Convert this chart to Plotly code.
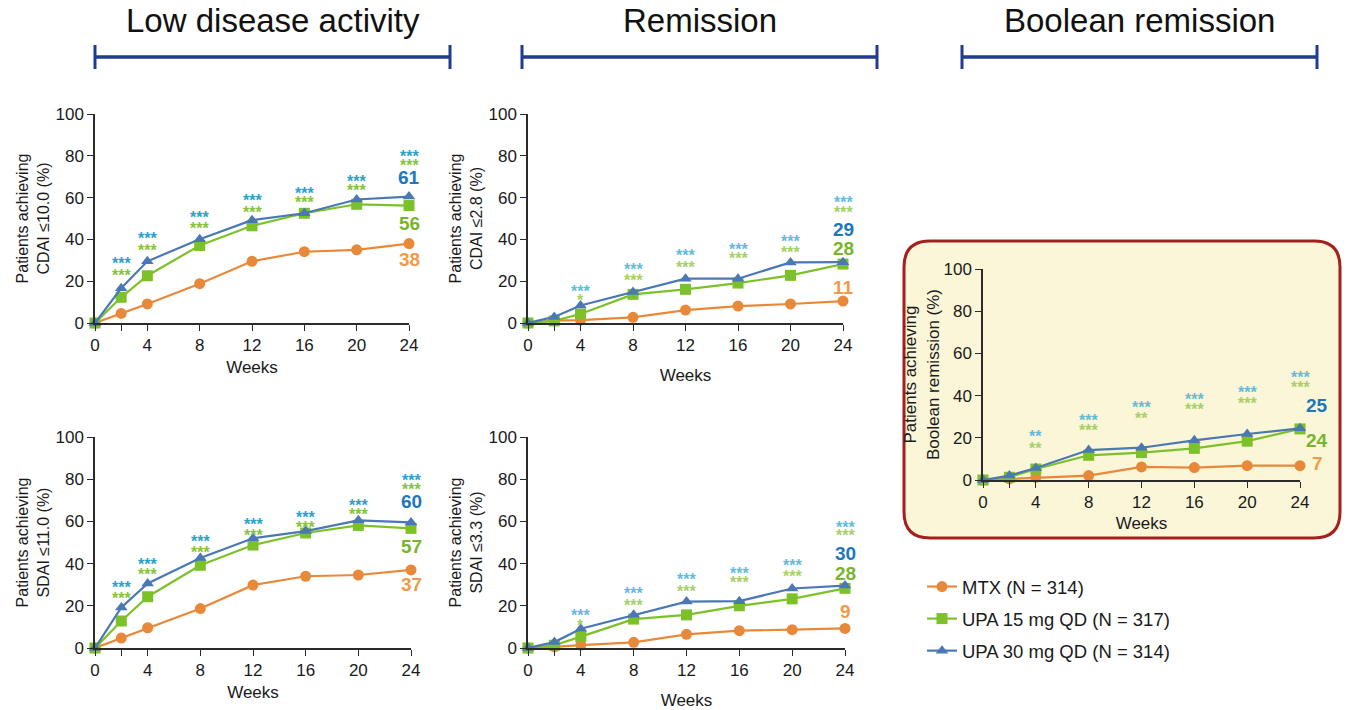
import plotly.graph_objects as go

W, H = 1356, 710

weeks = [0, 2, 4, 8, 12, 16, 20, 24]
week_ticktext = ["0", "", "4", "8", "12", "16", "20", "24"]
y_ticks = [0, 20, 40, 60, 80, 100]

series_names = ["MTX (N = 314)", "UPA 15 mg QD (N = 317)", "UPA 30 mg QD (N = 314)"]

# Low disease activity - CDAI <=10.0
lda_cdai_mtx = [0, 4.6, 9.1, 18.8, 29.5, 34.1, 35.0, 38.0]
lda_cdai_upa15 = [0, 12.3, 22.6, 37.1, 46.5, 52.5, 56.8, 56.2]
lda_cdai_upa30 = [0, 16.6, 29.5, 40.1, 49.2, 52.5, 59.1, 60.5]
# Remission - CDAI <=2.8
rem_cdai_mtx = [0, 1.1, 1.4, 2.7, 6.2, 8.1, 9.1, 10.5]
rem_cdai_upa15 = [0, 1.0, 4.3, 13.7, 16.1, 19.1, 22.8, 28.2]
rem_cdai_upa30 = [0, 2.9, 8.4, 14.8, 21.2, 21.2, 29.0, 29.1]
# Low disease activity - SDAI <=11.0
lda_sdai_mtx = [0, 4.7, 9.6, 18.7, 29.8, 34.0, 34.6, 37.0]
lda_sdai_upa15 = [0, 12.8, 24.3, 39.2, 48.8, 54.5, 58.1, 56.7]
lda_sdai_upa30 = [0, 19.2, 30.6, 42.7, 52.0, 55.4, 60.5, 59.5]
# Remission - SDAI <=3.3
rem_sdai_mtx = [0, 0.5, 1.4, 2.7, 6.5, 8.2, 8.7, 9.3]
rem_sdai_upa15 = [0, 1.3, 5.4, 13.7, 15.7, 20.0, 23.3, 28.3]
rem_sdai_upa30 = [0, 2.8, 9.1, 15.7, 22.0, 22.2, 28.2, 29.6]
# Boolean remission
bool_mtx = [0, 0.5, 1.3, 2.1, 6.2, 5.9, 6.8, 6.8]
bool_upa15 = [0, 1.3, 5.2, 11.7, 13.0, 15.0, 18.4, 24.2]
bool_upa30 = [0, 2.1, 5.7, 14.2, 15.3, 18.8, 21.8, 24.5]

# significance stars (weeks, text for UPA30 row, y, text for UPA15 row, y)
lda_cdai_star_weeks = [2, 4, 8, 12, 16, 20, 24]
lda_cdai_star30 = ["***"] * 7
lda_cdai_star30_y = [30.3, 42.2, 52.5, 60.5, 63.7, 69.7, 81.7]
lda_cdai_star15 = ["***"] * 7
lda_cdai_star15_y = [24.7, 36.6, 47.3, 54.9, 59.7, 65.3, 77.5]

rem_cdai_star_weeks = [4, 8, 12, 16, 20, 24]
rem_cdai_star30 = ["***"] * 6
rem_cdai_star30_y = [17.2, 27.5, 34.2, 37.1, 40.9, 59.4]
rem_cdai_star15 = ["*", "***", "***", "***", "***", "***"]
rem_cdai_star15_y = [12.7, 22.3, 28.7, 32.6, 35.8, 54.9]

lda_sdai_star_weeks = [2, 4, 8, 12, 16, 20, 24]
lda_sdai_star30 = ["***"] * 7
lda_sdai_star30_y = [30.4, 41.7, 52.3, 60.6, 63.8, 69.3, 81.1]
lda_sdai_star15 = ["***"] * 7
lda_sdai_star15_y = [25.5, 36.7, 47.2, 55.1, 59.0, 65.0, 76.9]

rem_sdai_star_weeks = [4, 8, 12, 16, 20, 24]
rem_sdai_star30 = ["***"] * 6
rem_sdai_star30_y = [17.2, 27.6, 34.5, 37.3, 40.8, 59.2]
rem_sdai_star15 = ["*", "***", "***", "***", "***", "***"]
rem_sdai_star15_y = [12.4, 22.0, 28.8, 32.8, 35.7, 55.0]

bool_star_weeks = [4, 8, 12, 16, 20, 24]
bool_star30 = ["**", "***", "***", "***", "***", "***"]
bool_star30_y = [22.6, 30.0, 36.4, 39.9, 43.4, 50.6]
bool_star15 = ["**", "***", "**", "***", "***", "***"]
bool_star15_y = [16.6, 25.3, 30.9, 35.1, 38.3, 45.6]

# end-of-study value labels (MTX, UPA15, UPA30) and their y positions
lda_cdai_end = ["38", "56", "61"]
lda_cdai_end_y = [30.6, 47.8, 69.7]
rem_cdai_end = ["11", "28", "29"]
rem_cdai_end_y = [17.2, 35.8, 44.9]
lda_sdai_end = ["37", "57", "60"]
lda_sdai_end_y = [30.2, 48.0, 69.6]
rem_sdai_end = ["9", "28", "30"]
rem_sdai_end_y = [17.3, 35.4, 44.9]
bool_end = ["7", "24", "25"]
bool_end_y = [7.6, 18.7, 35.3]

headers = ["Low disease activity", "Remission", "Boolean remission"]

# ---------------- styling ----------------
FONT = "Liberation Sans, Arial, sans-serif"
line_colors = ["#e8893a", "#7cc12a", "#4a78b4"]
symbols = ["circle", "square", "triangle-up"]
msize = [11, 11, 11]
star_dark = ("#2aa2cb", "#86c43a")
star_light = ("#62bcdc", "#a6d06a")
end_colors = ["#f29a48", "#78b52c", "#1c77bd"]


def px_x(p):
    return p / W


def px_y(p):
    return 1 - p / H


panels = [
    dict(ax="", data=[lda_cdai_mtx, lda_cdai_upa15, lda_cdai_upa30],
         xd=(95, 409), yd=(114, 323), ytitle="Patients achieving<br>CDAI ≤10.0 (%)",
         sw=lda_cdai_star_weeks, s30=lda_cdai_star30, s30y=lda_cdai_star30_y,
         s15=lda_cdai_star15, s15y=lda_cdai_star15_y, scol=star_dark,
         end=lda_cdai_end, endy=lda_cdai_end_y, endshift=0, wstand=7,
         ysize=16, ystand=2),
    dict(ax="2", data=[rem_cdai_mtx, rem_cdai_upa15, rem_cdai_upa30],
         xd=(528, 843), yd=(114, 323), ytitle="Patients achieving<br>CDAI ≤2.8 (%)",
         sw=rem_cdai_star_weeks, s30=rem_cdai_star30, s30y=rem_cdai_star30_y,
         s15=rem_cdai_star15, s15y=rem_cdai_star15_y, scol=star_light,
         end=rem_cdai_end, endy=rem_cdai_end_y, endshift=0, wstand=15,
         ysize=16, ystand=2),
    dict(ax="3", data=[lda_sdai_mtx, lda_sdai_upa15, lda_sdai_upa30],
         xd=(95, 411), yd=(437, 648), ytitle="Patients achieving<br>SDAI ≤11.0 (%)",
         sw=lda_sdai_star_weeks, s30=lda_sdai_star30, s30y=lda_sdai_star30_y,
         s15=lda_sdai_star15, s15y=lda_sdai_star15_y, scol=star_dark,
         end=lda_sdai_end, endy=lda_sdai_end_y, endshift=0, wstand=7,
         ysize=16, ystand=2),
    dict(ax="4", data=[rem_sdai_mtx, rem_sdai_upa15, rem_sdai_upa30],
         xd=(528, 845), yd=(437, 648), ytitle="Patients achieving<br>SDAI ≤3.3 (%)",
         sw=rem_sdai_star_weeks, s30=rem_sdai_star30, s30y=rem_sdai_star30_y,
         s15=rem_sdai_star15, s15y=rem_sdai_star15_y, scol=star_light,
         end=rem_sdai_end, endy=rem_sdai_end_y, endshift=0, wstand=24,
         ysize=16, ystand=2),
    dict(ax="5", data=[bool_mtx, bool_upa15, bool_upa30],
         xd=(983, 1300), yd=(269, 480), ytitle="Patients achieving<br>Boolean remission (%)",
         sw=bool_star_weeks, s30=bool_star30, s30y=bool_star30_y,
         s15=bool_star15, s15y=bool_star15_y, scol=star_light,
         end=bool_end, endy=bool_end_y, endshift=17, wstand=6,
         ysize=17, ystand=0),
]

fig = go.Figure()
annotations = []
shapes = []

# rounded yellow box behind Boolean panel
bx0, bx1, by0, by1, r = 904, 1340, 241, 538, 26


def P(x, y):
    return f"{x / W:.5f},{1 - y / H:.5f}"


box_path = (
    f"M {P(bx0 + r, by0)} L {P(bx1 - r, by0)} Q {P(bx1, by0)} {P(bx1, by0 + r)} "
    f"L {P(bx1, by1 - r)} Q {P(bx1, by1)} {P(bx1 - r, by1)} "
    f"L {P(bx0 + r, by1)} Q {P(bx0, by1)} {P(bx0, by1 - r)} "
    f"L {P(bx0, by0 + r)} Q {P(bx0, by0)} {P(bx0 + r, by0)} Z"
)
shapes.append(dict(type="path", xref="paper", yref="paper", path=box_path,
                   fillcolor="#fbf6d8", line=dict(color="#a3201f", width=3), layer="below"))

# header brackets
bracket_color = "#1f3c8f"
for (x0, x1), text in zip([(95, 450), (522, 877), (962, 1317)], headers):
    shapes.append(dict(type="line", xref="paper", yref="paper",
                       x0=px_x(x0), x1=px_x(x1), y0=px_y(57), y1=px_y(57),
                       line=dict(color=bracket_color, width=3.5)))
    for xe in (x0, x1):
        shapes.append(dict(type="line", xref="paper", yref="paper",
                           x0=px_x(xe), x1=px_x(xe), y0=px_y(45), y1=px_y(69),
                           line=dict(color=bracket_color, width=3)))
    annotations.append(dict(xref="paper", yref="paper", x=px_x((x0 + x1) / 2), y=px_y(21),
                            text=text, showarrow=False, xanchor="center", yanchor="middle",
                            font=dict(family=FONT, size=33, color="#111111")))

layout_axes = {}
for pi, p in enumerate(panels):
    xa = "x" + p["ax"]
    ya = "y" + p["ax"]
    for si in range(3):
        fig.add_trace(go.Scatter(
            x=weeks, y=p["data"][si], xaxis=xa, yaxis=ya,
            mode="lines+markers", name=series_names[si],
            legendgroup=series_names[si], showlegend=(pi == 0),
            line=dict(color=line_colors[si], width=2.2),
            marker=dict(symbol=symbols[si], size=msize[si], color=line_colors[si]),
            cliponaxis=False,
        ))
    xkey = "xaxis" + p["ax"]
    ykey = "yaxis" + p["ax"]
    layout_axes[xkey] = dict(
        domain=[px_x(p["xd"][0]), px_x(p["xd"][1])], anchor=ya,
        range=[0, 24], tickvals=weeks, ticktext=week_ticktext,
        showline=True, linecolor="#2b2b2b", linewidth=1.5,
        ticks="outside", ticklen=6, tickwidth=1.3, tickcolor="#2b2b2b",
        showgrid=False, zeroline=False, automargin=False,
        tickfont=dict(family=FONT, size=17, color="#1a1a1a"),
        title=dict(text="Weeks", font=dict(family=FONT, size=17, color="#1a1a1a"),
                   standoff=p["wstand"]),
    )
    layout_axes[ykey] = dict(
        domain=[px_y(p["yd"][1]), px_y(p["yd"][0])], anchor=xa,
        range=[0, 100], tickvals=y_ticks,
        showline=True, linecolor="#2b2b2b", linewidth=1.5,
        ticks="outside", ticklen=6, tickwidth=1.3, tickcolor="#2b2b2b",
        showgrid=False, zeroline=False, automargin=False,
        tickfont=dict(family=FONT, size=17, color="#1a1a1a"),
        title=dict(text=p["ytitle"], font=dict(family=FONT, size=p["ysize"], color="#1a1a1a"),
                   standoff=p["ystand"]),
    )
    # stars (asterisk glyphs sit high in the line box, so nudge them down)
    for w, t30, y30, t15, y15 in zip(p["sw"], p["s30"], p["s30y"], p["s15"], p["s15y"]):
        annotations.append(dict(xref=xa, yref=ya, x=w, y=y30, text="<b>" + t30 + "</b>",
                                showarrow=False, xanchor="center", yanchor="middle", yshift=-4,
                                font=dict(family=FONT, size=16, color=p["scol"][0])))
        annotations.append(dict(xref=xa, yref=ya, x=w, y=y15, text="<b>" + t15 + "</b>",
                                showarrow=False, xanchor="center", yanchor="middle", yshift=-4,
                                font=dict(family=FONT, size=16, color=p["scol"][1])))
    # end labels
    for si in range(3):
        annotations.append(dict(xref=xa, yref=ya, x=24, y=p["endy"][si],
                                text="<b>" + p["end"][si] + "</b>", showarrow=False,
                                xanchor="center", yanchor="middle", xshift=p["endshift"],
                                font=dict(family=FONT, size=19, color=end_colors[si])))

fig.update_layout(
    width=W, height=H,
    margin=dict(l=0, r=0, t=0, b=0, autoexpand=False),
    paper_bgcolor="white", plot_bgcolor="rgba(0,0,0,0)",
    font=dict(family=FONT, color="#1a1a1a"),
    shapes=shapes, annotations=annotations,
    showlegend=True,
    legend=dict(x=px_x(922), y=px_y(568), xanchor="left", yanchor="top",
                bgcolor="rgba(0,0,0,0)", tracegroupgap=5, traceorder="grouped",
                font=dict(family=FONT, size=18.5, color="#1a1a1a")),
    **layout_axes,
)

fig.write_html(
    "out.html",
    config={"displayModeBar": False},
    post_script="document.body.style.margin='0';document.body.style.padding='0';"
                "document.body.style.overflow='hidden';",
)
